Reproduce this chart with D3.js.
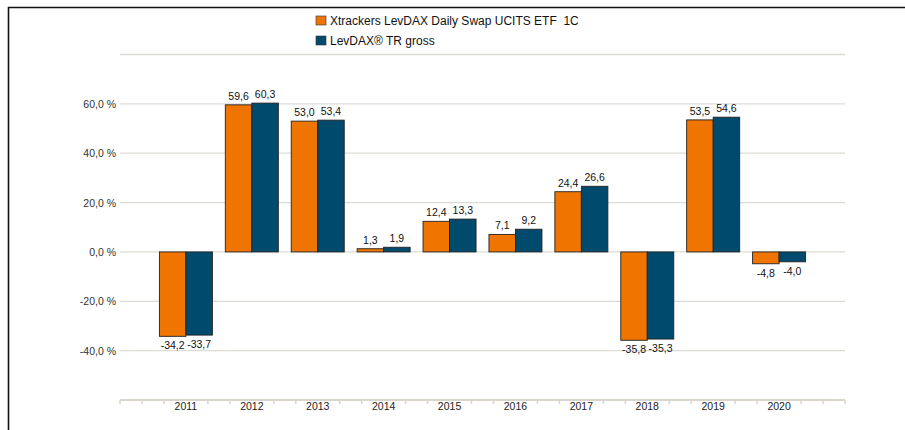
<!DOCTYPE html>
<html><head><meta charset="utf-8">
<script src="https://cdn.jsdelivr.net/npm/d3@7"></script>
<style>body{margin:0;background:#fff;} svg{display:block;font-family:"Liberation Sans",Arial,sans-serif;}</style>
</head><body>
<svg id="c" width="905" height="430"></svg>
<script>
const years = ["2011","2012","2013","2014","2015","2016","2017","2018","2019","2020"];
const seriesNames = ["Xtrackers LevDAX Daily Swap UCITS ETF  1C", "LevDAX® TR gross"];
const etfValues = [-34.2, 59.6, 53.0, 1.3, 12.4, 7.1, 24.4, -35.8, 53.5, -4.8];
const indexValues = [-33.7, 60.3, 53.4, 1.9, 13.3, 9.2, 26.6, -35.3, 54.6, -4.0];
const yTicks = [-60, -40, -20, 0, 20, 40, 60, 80];
const yLabelTicks = [-40, -20, 0, 20, 40, 60];
const colors = ["#ef7400", "#004a6e"];

const svg = d3.select("#c");
const fmt = v => d3.format(".1f")(v).replace(".", ",").replace("−","-");

// frame
svg.append("path").attr("d","M8.5,430 V7.5 H905").attr("fill","none").attr("stroke","#111").attr("stroke-width",1.6);

const x = d3.scaleBand().domain(years).range([120, 845]).paddingOuter(0.5).paddingInner(0);
const y = d3.scaleLinear().domain([-60, 80]).range([400, 54.5]);

// grid
svg.append("g").selectAll("line").data(yTicks.filter(t => t > -60)).join("line")
  .attr("x1", 120).attr("x2", 845).attr("y1", d => y(d)).attr("y2", d => y(d))
  .attr("stroke", "#dcdbd6").attr("stroke-width", 1.3);

// y labels
svg.append("g").selectAll("text").data(yLabelTicks).join("text")
  .attr("x", 116).attr("y", d => y(d) + 4).attr("text-anchor", "end")
  .attr("font-size", 10.5).attr("fill", "#333").text(d => fmt(d) + " %");

// x axis
const step = x.step();
const axisG = svg.append("g");
axisG.append("line").attr("x1",120).attr("x2",845).attr("y1",400).attr("y2",400).attr("stroke","#d9d5cc").attr("stroke-width",2);
const tickPos = d3.range(0, 34).filter(k => k % 3 !== 0 || k === 0 || k === 33).map(k => 120 + k * step / 3);
axisG.selectAll("line.t").data(tickPos).join("line").attr("class","t")
  .attr("x1", d => d).attr("x2", d => d).attr("y1", 400).attr("y2", 404)
  .attr("stroke", "#d9d5cc").attr("stroke-width", 1.5);
axisG.selectAll("text").data(years).join("text")
  .attr("x", d => x(d) + step / 2).attr("y", 410).attr("text-anchor", "middle")
  .attr("font-size", 10.5).attr("fill", "#222").text(d => d);

// bars
const barW = 26.5;
const series = [etfValues, indexValues];
series.forEach((vals, si) => {
  const g = svg.append("g");
  const cx = (i) => x(years[i]) + step / 2 + (si === 0 ? -barW : 0);
  g.selectAll("rect").data(vals).join("rect")
    .attr("x", (d, i) => cx(i)).attr("width", barW)
    .attr("y", d => y(Math.max(0, d))).attr("height", d => Math.abs(y(d) - y(0)))
    .attr("fill", colors[si]).attr("stroke", "#222").attr("stroke-width", 0.9);
  g.selectAll("text").data(vals).join("text")
    .attr("x", (d, i) => cx(i) + barW / 2)
    .attr("y", d => d >= 0 ? y(d) - 5 : y(d) + 13)
    .attr("text-anchor", "middle").attr("font-size", 10.5).attr("fill", "#111")
    .text(d => fmt(d));
});

// legend
const leg = svg.append("g");
seriesNames.forEach((n, i) => {
  leg.append("rect").attr("x", 316).attr("y", 16 + i * 20).attr("width", 10).attr("height", 9)
    .attr("fill", colors[i]).attr("stroke", "#333").attr("stroke-width", 0.6);
  leg.append("text").attr("x", 330).attr("y", 25 + i * 20).attr("font-size", 12).attr("fill", "#111")
    .attr("xml:space","preserve").style("white-space","pre").text(n);
});
</script>
</body></html>
